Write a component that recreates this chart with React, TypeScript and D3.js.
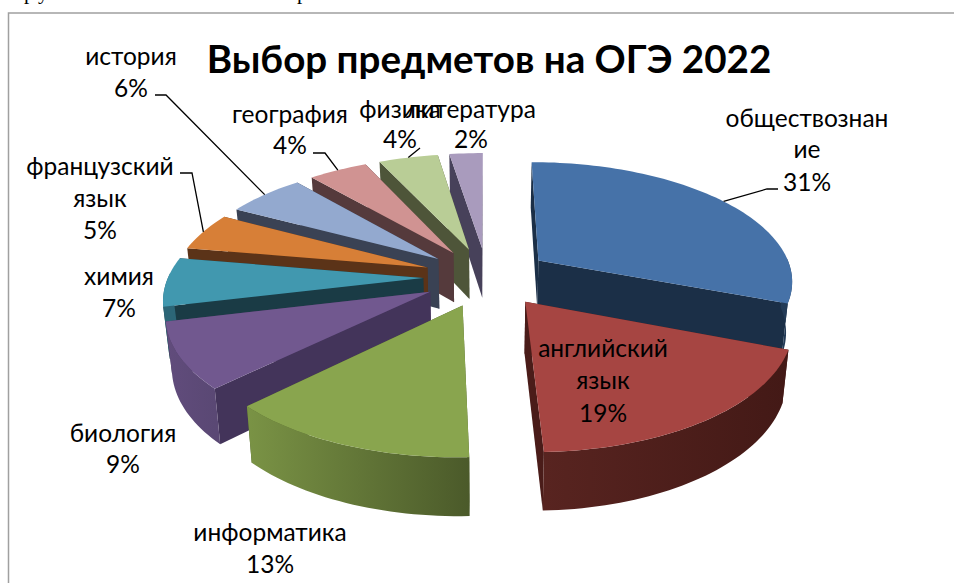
import React from "react";
import * as d3 from "d3";

const subjects = ["обществознание","английский язык","информатика","биология","химия","французский язык","история","география","физика","литература"];
// Shares (printed labels are rounded)
const shares = [30.8,18.6,13.2,8.6,6.5,5.05,5.85,4.4,4.45,2.5];
const topColors = ["#4672A8","#A64542","#89A54E","#71588F","#4198AF","#D77F37","#93A9CF","#D09392","#B9CD96","#A99BBD"];
const wallColors = ["#1B2F47","#4A1C19","#4B5B2A","#43345A","#1A3B45","#5B3318","#3A4254","#553A3C","#4E5539","#47415A"];
const outerLeft = ["#233B57","#582420","#7A9345","#614C7C","#2C6677","#8A5225","#55647E","#7D5857","#70795A","#665D73"];
const outerRight = ["#2A4668","#431916","#4B5A2A","#5A4874","#2C6677","#8A5225","#55647E","#7D5857","#70795A","#665D73"];
// Draw order, back to front
const paintOrder = [9,8,7,6,5,4,3,0,2,1];

const labelLines: string[][] = [
  ["обществознан","ие","31%"],["английский","язык","19%"],["информатика","13%"],["биология","9%"],["химия","7%"],
  ["французский","язык","5%"],["история","6%"],["география","4%"],["физика","4%"],["литература","2%"],
];
const labelCenterX = [807,603,270,123,119,100,131,290,400,471];
const labelBaselines = [[127,158,191],[357,389,422],[541,573],[442,473],[285,317],[175,207,239],[65,97],[123,154],[118,148],[118,148]];
// Leader-line elbows [from x, elbow x, elbow y]
const leaders: Record<number, [number,number,number]> = {
  0:[778,767,189], 5:[180,192,173], 6:[155,166,95], 7:[313,325,153], 8:[420,420,148],
};
// Clipped line of the surrounding page above the chart
const clippedGlyphs: [string, number][] = [["р",24],["у",38],["р",297]];

const W = 954, H = 583;
const cx = 487, cy = 277, A = 255, B = 118.4, K = 0.155, EXPLODE = 0.25, DEPTH = 50.5, SHRINK = 0.98;

type P = [number, number];
const persp = (z: number) => 1 / (1 + K * z);
const sxTop = d3.scaleLinear().domain([-1, 1]).range([cx - A, cx + A]);
const syTop = d3.scaleLinear().domain([-1, 1]).range([cy + B, cy - B]);
const top = (x: number, z: number): P => {
  const f = persp(z);
  return [sxTop(x * f), syTop(z * f)];
};
const bottom = (x: number, z: number): P => {
  const f = persp(z);
  const [tx, ty] = top(x, z);
  return [cx + (tx - cx) * SHRINK, cy + (ty - cy) * SHRINK + DEPTH * f];
};
const line = d3.line<P>();

const arcs = d3.pie<number>().sort(null).startAngle(0).endAngle(2 * Math.PI)(shares);

function angles(a0: number, a1: number): number[] {
  const n = Math.max(2, Math.ceil((a1 - a0) / (Math.PI / 120)));
  return d3.range(n + 1).map(i => a0 + ((a1 - a0) * i) / n);
}

export default function App() {
  const slices = arcs.map((arc, i) => {
    const mid = (arc.startAngle + arc.endAngle) / 2;
    const ox = EXPLODE * Math.sin(mid), oz = EXPLODE * Math.cos(mid);
    const w = (a: number): [number, number] => [ox + Math.sin(a), oz + Math.cos(a)];
    const angs = angles(arc.startAngle, arc.endAngle);
    const topPath = line([top(ox, oz), ...angs.map(a => top(...w(a)))]) + "Z";
    const radial = (a: number) =>
      line([top(ox, oz), top(...w(a)), bottom(...w(a)), bottom(ox, oz)]) + "Z";
    const front = angs.filter(a => Math.cos(a) < 0.05);
    const outer = front.length > 1
      ? line([...front.map(a => top(...w(a))), ...front.slice().reverse().map(a => bottom(...w(a)))]) + "Z"
      : null;
    const xs = front.map(a => top(...w(a))[0]);
    const isRight = mid < Math.PI;
    return { i, topPath, startWall: radial(arc.startAngle), endWall: radial(arc.endAngle), outer,
      x0: d3.min(xs) ?? 0, x1: d3.max(xs) ?? 1, isRight, anchor: top(...w(mid)) };
  });

  return (
    <svg width={W} height={H} style={{ position: "absolute", left: 0, top: 0, background: "#fff" }}>
      <defs>
        {slices.map(s => (
          <linearGradient key={s.i} id={`outer${s.i}`} gradientUnits="userSpaceOnUse" x1={s.x0} x2={s.x1} y1={0} y2={0}>
            <stop offset="0" stopColor={outerLeft[s.i]} />
            <stop offset="1" stopColor={outerRight[s.i]} />
          </linearGradient>
        ))}
      </defs>
      {clippedGlyphs.map(([t, x], i) => (
        <text key={i} x={x} y={-1} fontFamily="'Liberation Serif', serif" fontSize={21} fill="#000">{t}</text>
      ))}
      <path d="M8.5,583V13H954" fill="none" stroke="#A0A0A0" strokeWidth={1.5} />
      {paintOrder.map(i => {
        const s = slices[i];
        const [back, frontWall] = s.isRight ? [s.startWall, s.endWall] : [s.endWall, s.startWall];
        return (
          <g key={i}>
            <path d={back} fill={wallColors[i]} />
            <path d={frontWall} fill={wallColors[i]} />
            {s.outer && <path d={s.outer} fill={`url(#outer${i})`} />}
            <path d={s.topPath} fill={topColors[i]} />
          </g>
        );
      })}
      {Object.entries(leaders).map(([k, [x0, ex, ey]]) => {
        const s = slices[+k];
        return <path key={k} d={line([[x0, ey], [ex, ey], s.anchor])!} fill="none" stroke="#000" strokeWidth={1.3} />;
      })}
      <g fontFamily="Lato, 'Open Sans', sans-serif" fontSize={24.5} fill="#000" textAnchor="middle">
        {labelLines.map((lines, i) =>
          lines.map((t, j) => (
            <text key={`${i}-${j}`} x={labelCenterX[i]} y={labelBaselines[i][j]}>{t}</text>
          ))
        )}
      </g>
      <text x={489} y={73} textAnchor="middle" fontFamily="Lato, 'Open Sans', sans-serif" fontWeight={700} fontSize={38.6}>
        Выбор предметов на ОГЭ 2022
      </text>
    </svg>
  );
}
